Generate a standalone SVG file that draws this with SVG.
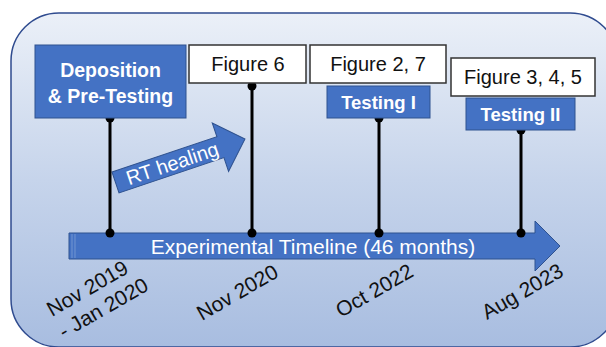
<svg xmlns="http://www.w3.org/2000/svg" width="606" height="347" viewBox="0 0 606 347">
<defs>
<linearGradient id="bg" x1="0" y1="0" x2="0" y2="1">
<stop offset="0" stop-color="#ebf0f8"/>
<stop offset="0.5" stop-color="#c6d4eb"/>
<stop offset="1" stop-color="#a8bde0"/>
</linearGradient>
</defs>
<style>
.blue{fill:#4472c4;stroke:#2f528f;stroke-width:1}
.white{fill:#ffffff;stroke:#333333;stroke-width:1.5}
.bt{font-family:"Liberation Sans",Arial,sans-serif;font-weight:bold;fill:#ffffff;text-anchor:middle}
.nt{font-family:"Liberation Sans",Arial,sans-serif;fill:#111111;text-anchor:middle;font-size:20px}
.wt{font-family:"Liberation Sans",Arial,sans-serif;fill:#ffffff;font-size:21px}
.dt{font-family:"Liberation Sans",Arial,sans-serif;fill:#111111;font-size:21px}
.ln{stroke:#000000;stroke-width:3}
.dot{fill:#000000}
</style>
<rect width="606" height="347" fill="#ffffff"/>
<rect id="frame" x="11" y="13" width="607" height="334" rx="48" ry="48" fill="url(#bg)" stroke="#2f4b8f" stroke-width="1.5"/>

<g id="timeline">
<path class="blue" d="M69,233 H535 V221 L560,246 L535,271 V259 H69 Z"/>
<line x1="72" y1="234" x2="72" y2="258" stroke="#7f9fd6" stroke-width="0.8"/>
<line x1="75" y1="234" x2="75" y2="258" stroke="#7f9fd6" stroke-width="0.8"/>
<text class="wt" x="313" y="254" text-anchor="middle">Experimental Timeline (46 months)</text>
</g>

<g id="rt-healing" transform="translate(115.5,182.5) rotate(-18.6)">
<path class="blue" d="M0,-11 H110.7 V-25.6 L136.6,0 L110.7,25.6 V11 H0 Z"/>
<text class="wt" x="60" y="7" text-anchor="middle" style="font-size:20px">RT healing</text>
</g>

<g id="connectors">
<line class="ln" x1="110" y1="118" x2="110" y2="233"/>
<line class="ln" x1="252" y1="86" x2="252" y2="233"/>
<line class="ln" x1="379" y1="118" x2="379" y2="233"/>
<line class="ln" x1="521" y1="130" x2="521" y2="233"/>
<circle class="dot" cx="110" cy="118" r="4.5"/>
<circle class="dot" cx="110" cy="233" r="4.5"/>
<circle class="dot" cx="252" cy="86" r="4.5"/>
<circle class="dot" cx="252" cy="233" r="4.5"/>
<circle class="dot" cx="379" cy="118" r="4.5"/>
<circle class="dot" cx="379" cy="233" r="4.5"/>
<circle class="dot" cx="521" cy="130" r="4.5"/>
<circle class="dot" cx="521" cy="233" r="4.5"/>
</g>

<g id="deposition">
<rect class="blue" x="35" y="45" width="151" height="73"/>
<text class="bt" x="110.5" y="77" style="font-size:19.5px">Deposition</text>
<text class="bt" x="110.5" y="103" style="font-size:19.5px">&amp; Pre-Testing</text>
</g>

<g id="figure6">
<rect class="white" x="189" y="45" width="117" height="38"/>
<text class="nt" x="248" y="71">Figure 6</text>
</g>

<g id="figure27">
<rect class="white" x="310" y="45" width="136" height="38"/>
<text class="nt" x="378" y="71">Figure 2, 7</text>
</g>

<g id="figure345">
<rect class="white" x="451" y="58" width="144" height="38"/>
<text class="nt" x="523" y="84">Figure 3, 4, 5</text>
</g>

<g id="testing1">
<rect class="blue" x="327" y="86" width="103" height="32"/>
<text class="bt" x="378.5" y="109" style="font-size:18.5px">Testing I</text>
</g>

<g id="testing2">
<rect class="blue" x="466" y="98" width="109" height="32"/>
<text class="bt" x="520.5" y="121" style="font-size:18.5px">Testing II</text>
</g>

<g id="dates">
<text class="dt" transform="translate(52,317) rotate(-30)">Nov 2019</text>
<text class="dt" transform="translate(64,339) rotate(-30)">- Jan 2020</text>
<text class="dt" transform="translate(202,321) rotate(-30)">Nov 2020</text>
<text class="dt" transform="translate(341,318) rotate(-30)">Oct 2022</text>
<text class="dt" transform="translate(487,320) rotate(-30)">Aug 2023</text>
</g>
</svg>
